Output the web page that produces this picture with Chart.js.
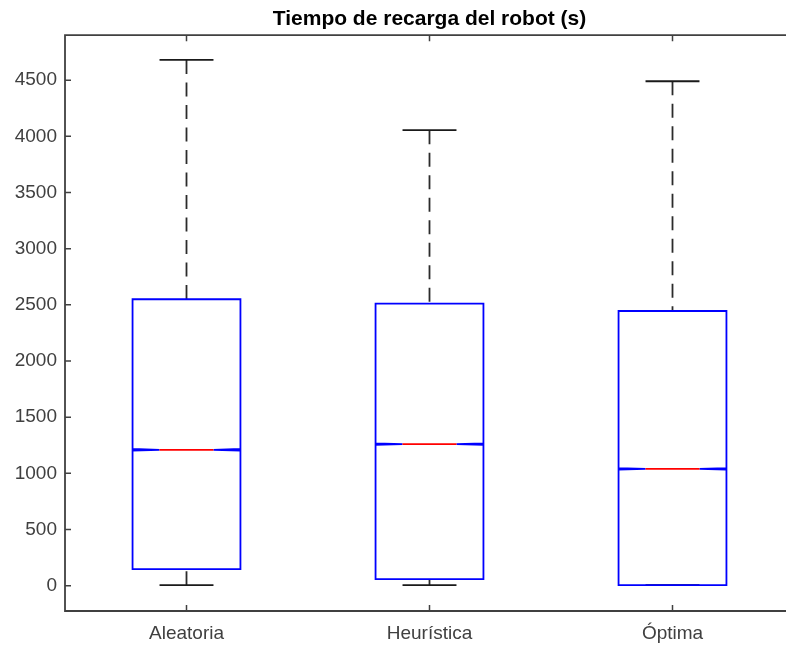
<!DOCTYPE html>
<html>
<head>
<meta charset="utf-8">
<script src="https://cdn.jsdelivr.net/npm/chart.js@4/dist/chart.umd.min.js"></script>
<style>
  html, body { margin: 0; padding: 0; background: #ffffff; }
  #wrap { width: 786px; height: 646px; overflow: hidden; position: relative; }
  #box { position: absolute; left: 0; top: 0; width: 859px; height: 646px; }
</style>
</head>
<body>
<div id="wrap"><div id="box"><canvas id="c" width="859" height="646"></canvas></div></div>
<script>
// Charging time of the robot per strategy (seconds)
const categories = ['Aleatoria', 'Heurística', 'Óptima'];
const lowerWhisker = [5, 5, 5];
const q1 = [148, 58, 5];
const median = [1210, 1260, 1040];
const q3 = [2550, 2510, 2445];
const upperWhisker = [4680, 4055, 4490];
const notchLow = [1203, 1253, 1033];
const notchHigh = [1217, 1267, 1047];
const yTickValues = [0, 500, 1000, 1500, 2000, 2500, 3000, 3500, 4000, 4500];
const yMin = -225, yMax = 4900;

const FONT = "'Liberation Sans', Arial, Helvetica, sans-serif";
const AXIS_COLOR = '#404040';

const boxPlotPlugin = {
  id: 'boxPlot',
  afterDatasetsDraw(chart) {
    const ctx = chart.ctx;
    const ys = chart.scales.y;
    const meta = chart.getDatasetMeta(0);
    ctx.save();
    meta.data.forEach((bar, i) => {
      const cx = bar.x;
      const half = bar.width / 2;
      const left = cx - half, right = cx + half;
      const capHalf = half / 2;
      const inset = half / 2;
      const yLw = ys.getPixelForValue(lowerWhisker[i]);
      const yQ1 = ys.getPixelForValue(q1[i]);
      const yMed = ys.getPixelForValue(median[i]);
      const yQ3 = ys.getPixelForValue(q3[i]);
      const yUw = ys.getPixelForValue(upperWhisker[i]);
      const yNl = ys.getPixelForValue(notchLow[i]);
      const yNh = ys.getPixelForValue(notchHigh[i]);

      // whiskers (dashed)
      ctx.strokeStyle = '#2b2b2b';
      ctx.lineWidth = 1.8;
      ctx.setLineDash([14, 8.5]);
      ctx.beginPath();
      ctx.moveTo(cx, yUw); ctx.lineTo(cx, yQ3);
      ctx.moveTo(cx, yLw); ctx.lineTo(cx, yQ1);
      ctx.stroke();
      ctx.setLineDash([]);
      // whisker caps
      ctx.strokeStyle = '#1a1a1a';
      ctx.beginPath();
      ctx.moveTo(cx - capHalf, yUw); ctx.lineTo(cx + capHalf, yUw);
      ctx.moveTo(cx - capHalf, yLw); ctx.lineTo(cx + capHalf, yLw);
      ctx.stroke();

      // notched box
      ctx.strokeStyle = '#0000ff';
      ctx.lineWidth = 1.8;
      ctx.beginPath();
      ctx.moveTo(left, yQ1);
      ctx.lineTo(left, yNl);
      ctx.lineTo(left + inset, yMed);
      ctx.lineTo(left, yNh);
      ctx.lineTo(left, yQ3);
      ctx.lineTo(right, yQ3);
      ctx.lineTo(right, yNh);
      ctx.lineTo(right - inset, yMed);
      ctx.lineTo(right, yNl);
      ctx.lineTo(right, yQ1);
      ctx.closePath();
      ctx.stroke();

      // median
      ctx.strokeStyle = '#ff0000';
      ctx.lineWidth = 1.8;
      ctx.beginPath();
      ctx.moveTo(left + inset, yMed); ctx.lineTo(right - inset, yMed);
      ctx.stroke();
    });

    // axes frame with inward ticks
    const a = chart.chartArea;
    ctx.strokeStyle = AXIS_COLOR;
    ctx.lineWidth = 1.8;
    ctx.beginPath();
    ctx.moveTo(a.left, a.top); ctx.lineTo(a.right, a.top);
    ctx.lineTo(a.right, a.bottom); ctx.lineTo(a.left, a.bottom);
    ctx.closePath();
    ctx.stroke();
    ctx.lineWidth = 1.5;
    ctx.beginPath();
    ys.ticks.forEach(t => {
      const y = ys.getPixelForValue(t.value);
      ctx.moveTo(a.left, y); ctx.lineTo(a.left + 6, y);
      ctx.moveTo(a.right, y); ctx.lineTo(a.right - 6, y);
    });
    meta.data.forEach(bar => {
      ctx.moveTo(bar.x, a.bottom); ctx.lineTo(bar.x, a.bottom - 6);
      ctx.moveTo(bar.x, a.top); ctx.lineTo(bar.x, a.top + 6);
    });
    ctx.stroke();
    ctx.restore();
  }
};

new Chart(document.getElementById('c'), {
  type: 'bar',
  data: {
    labels: categories,
    datasets: [{
      data: categories.map((_, i) => [q1[i], q3[i]]),
      backgroundColor: 'rgba(0,0,0,0)',
      borderWidth: 0,
      barPercentage: 0.444,
      categoryPercentage: 1
    }]
  },
  options: {
    responsive: false,
    animation: false,
    events: [],
    layout: { padding: 0 },
    plugins: {
      legend: { display: false },
      tooltip: { enabled: false },
      title: {
        display: true,
        text: 'Tiempo de recarga del robot (s)',
        color: '#000000',
        font: { family: FONT, size: 21, weight: 'bold', lineHeight: 1.2 },
        padding: { top: 7, bottom: 3 }
      }
    },
    scales: {
      x: {
        type: 'category',
        offset: true,
        grid: { display: false, drawTicks: false },
        border: { display: false },
        ticks: { color: '#404040', font: { family: FONT, size: 19 }, padding: 11, maxRotation: 0 },
        afterFit(scale) { scale.height = 35; }
      },
      y: {
        min: yMin,
        max: yMax,
        grid: { display: false, drawTicks: false },
        border: { display: false },
        ticks: {
          color: '#404040',
          font: { family: FONT, size: 19 },
          padding: 8,
          callback: v => String(v)
        },
        afterBuildTicks(scale) { scale.ticks = yTickValues.map(v => ({ value: v })); },
        afterFit(scale) { scale.width = 65; }
      },
      yRight: {
        position: 'right',
        min: yMin,
        max: yMax,
        grid: { display: false, drawTicks: false },
        border: { display: false },
        ticks: { display: false },
        afterFit(scale) { scale.width = 65; }
      }
    }
  },
  plugins: [boxPlotPlugin]
});
</script>
</body>
</html>
